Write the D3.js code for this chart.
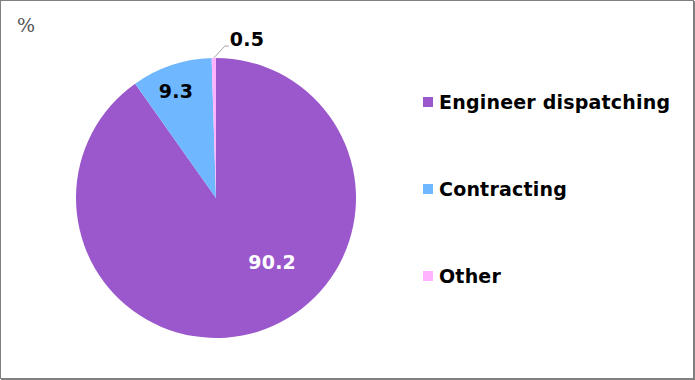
<!DOCTYPE html>
<html><head><meta charset="utf-8">
<script src="https://cdn.jsdelivr.net/npm/d3@7"></script>
<style>body{margin:0;background:#fff}svg{display:block}</style>
</head><body><svg id="c" width="695" height="380"></svg>
<script>
const categories = ["Engineer dispatching", "Contracting", "Other"];
const values = [90.2, 9.3, 0.5];
const valueLabels = ["90.2", "9.3", "0.5"];
const colors = ["#9b58cc", "#6fb7ff", "#ffb3ff"];
const unitLabel = "%";

const svg = d3.select("#c");
svg.append("rect").attr("x",0.5).attr("y",0.5).attr("width",693).attr("height",378)
  .attr("fill","#fff").attr("stroke","#808080").attr("stroke-width",1);
svg.append("line").attr("x1",694.5).attr("x2",694.5).attr("y1",1).attr("y2",380).attr("stroke","#808080");
svg.append("line").attr("x1",1).attr("x2",695).attr("y1",379.5).attr("y2",379.5).attr("stroke","#808080");

svg.append("text").attr("x",17).attr("y",32).text(unitLabel)
  .attr("font-family","'DejaVu Serif', 'Liberation Serif', serif").attr("font-size",19).attr("fill","#555");

const cx = 216, cy = 198, r = 140;
const pie = d3.pie().sort(null).value(d => d)(values);
const arc = d3.arc().innerRadius(0).outerRadius(r);
const g = svg.append("g").attr("transform",`translate(${cx},${cy})`);
g.selectAll("path").data(pie).join("path").attr("d",arc).attr("fill",(d,i)=>colors[i]);

const font = "'DejaVu Sans', Verdana, sans-serif";
const fs = 19, ls = 0.2;
const place = [{da:-0.41, f:0.61}, {da:-0.035, f:0.815}];
pie.forEach((d,i) => {
  const mid = (d.startAngle + d.endAngle)/2;
  if (i < 2) {
    const a = mid + place[i].da, rr = r*place[i].f;
    g.append("text").attr("x", Math.sin(a)*rr).attr("y", -Math.cos(a)*rr)
      .attr("text-anchor","middle").attr("dominant-baseline","central")
      .attr("font-family",font).attr("font-weight","bold").attr("font-size",fs).attr("letter-spacing",ls)
      .attr("fill", i===0 ? "#fff" : "#000").text(valueLabels[i]);
  } else {
    const p0 = [Math.sin(mid)*r, -Math.cos(mid)*r];
    const p1 = [p0[0]+11, p0[1]-12];
    g.append("polyline").attr("points",[p0,p1,[p1[0]+4,p1[1]]].map(p=>p.join(",")).join(" "))
      .attr("fill","none").attr("stroke","#a6a6a6").attr("stroke-width",1);
    g.append("text").attr("x", p1[0]+5).attr("y", p1[1]-7)
      .attr("dominant-baseline","central")
      .attr("font-family",font).attr("font-weight","bold").attr("font-size",fs).attr("letter-spacing",ls)
      .attr("fill","#000").text(valueLabels[i]);
  }
});

const leg = svg.append("g");
const rowY = d3.scalePoint().domain(categories).range([102, 276]);
categories.forEach((c,i) => {
  const y = rowY(c);
  leg.append("rect").attr("x",423).attr("y",y-5).attr("width",10).attr("height",10).attr("fill",colors[i]);
  leg.append("text").attr("x",439).attr("y",y).attr("dominant-baseline","central")
    .attr("font-family",font).attr("font-weight","bold").attr("font-size",fs).attr("letter-spacing",ls)
    .attr("fill","#000").text(c);
});
</script></body></html>
